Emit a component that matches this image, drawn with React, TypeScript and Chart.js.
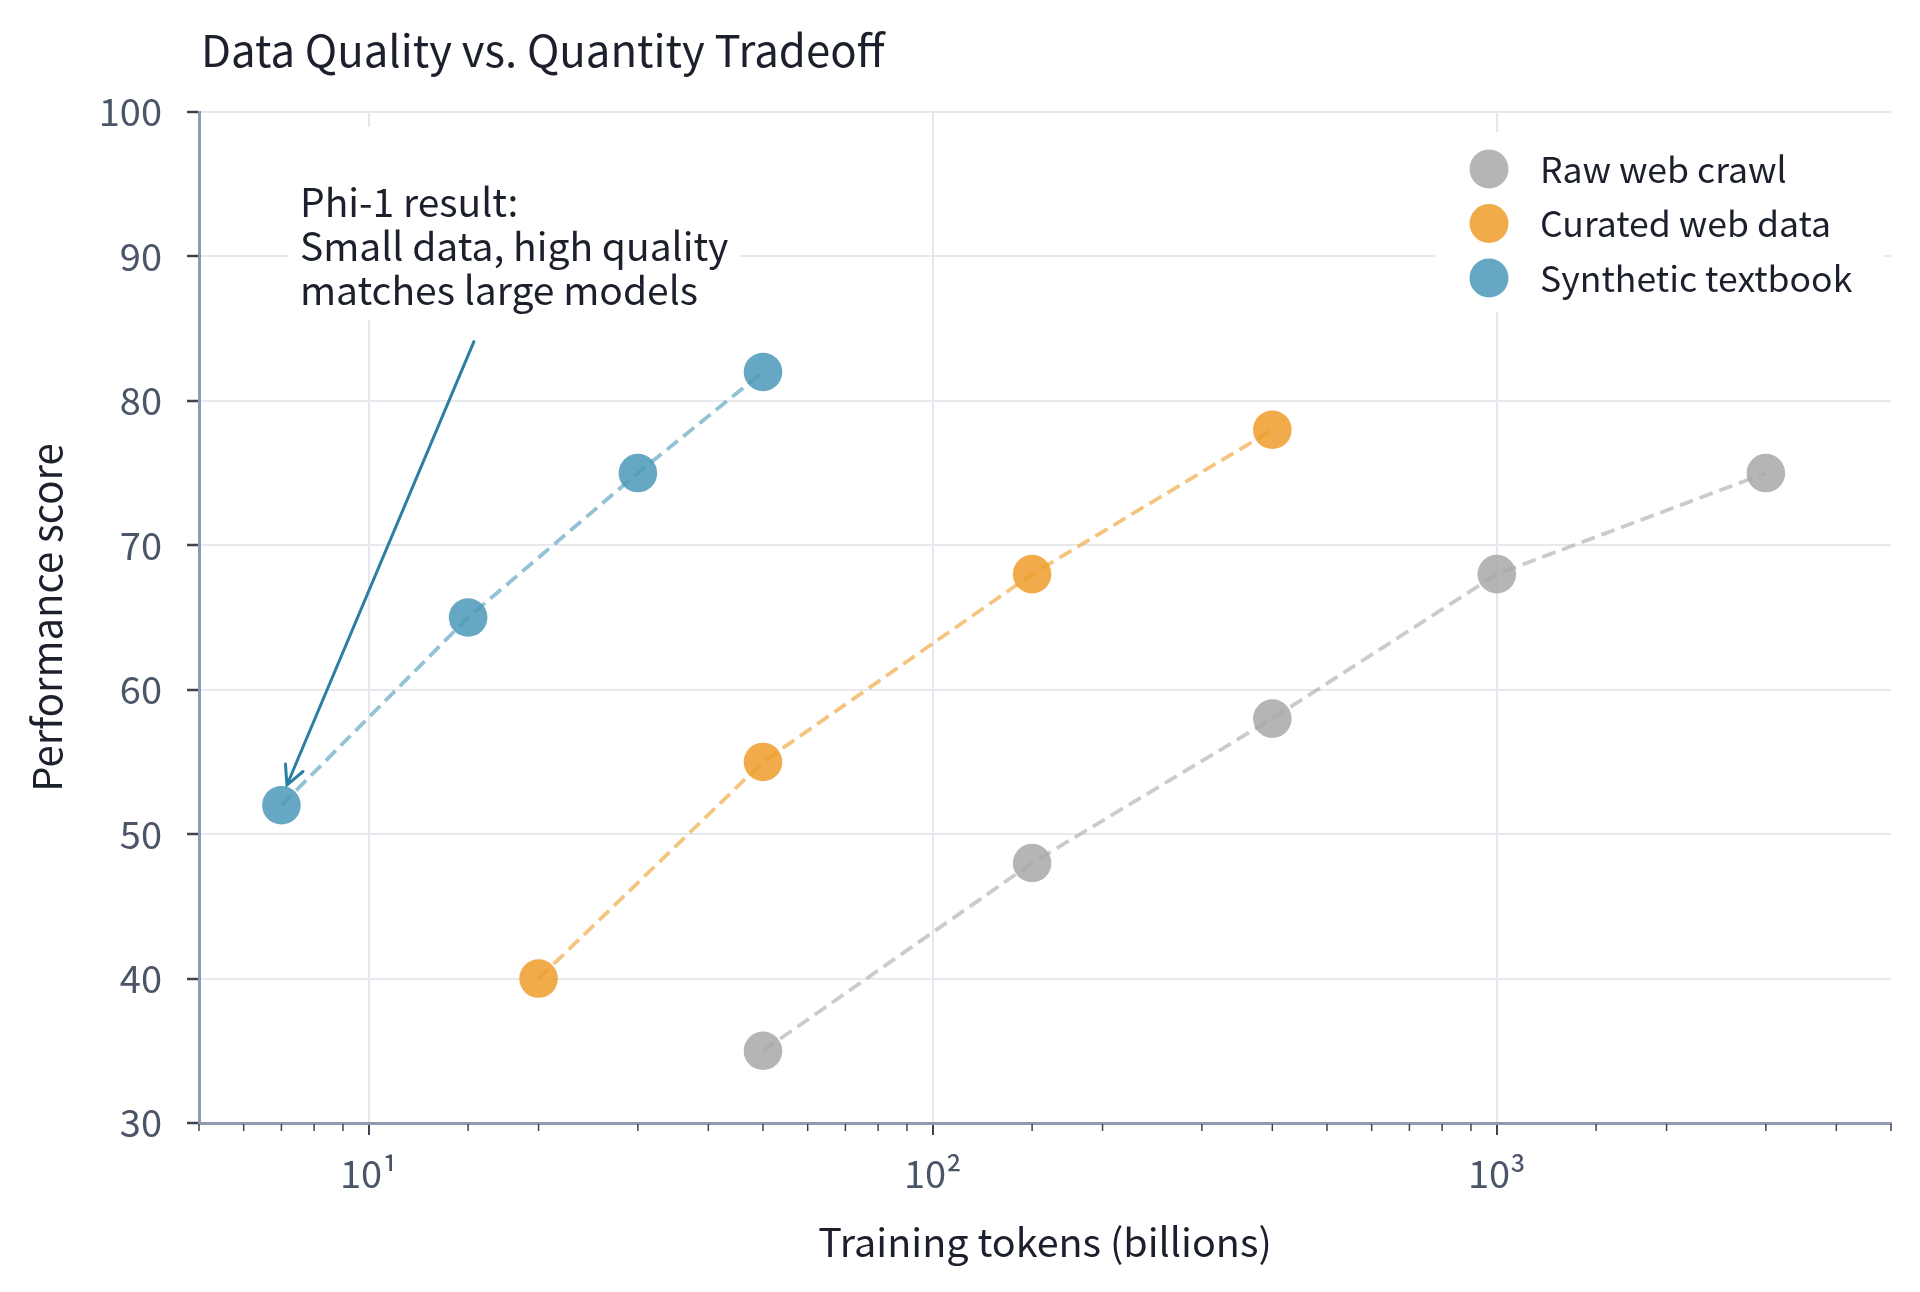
import { useEffect, useRef } from 'react';
import { Chart, registerables } from 'chart.js';

Chart.register(...registerables);

// series values (tokens in billions, score)
const rawTokens = [50, 150, 400, 1000, 3000];
const rawScores = [35, 48, 58, 68, 75];
const curatedTokens = [20, 50, 150, 400];
const curatedScores = [40, 55, 68, 78];
const syntheticTokens = [7, 15, 30, 50];
const syntheticScores = [52, 65, 75, 82];

const seriesLabels = ['Raw web crawl', 'Curated web data', 'Synthetic textbook'];
const markerColors = ['rgba(168,168,168,0.85)', 'rgba(238,156,42,0.85)', 'rgba(75,153,185,0.85)'];
const lineColors = ['rgba(168,168,168,0.6)', 'rgba(238,156,42,0.6)', 'rgba(75,153,185,0.6)'];

const xMajorTicks = [10, 100, 1000];
const xTickLabels = ['10¹', '10²', '10³'];

const annotationLines = ['Phi-1 result:', 'Small data, high quality', 'matches large models'];
const annotationText = { x: 7.55, y: 92.87 };
const arrowFrom = { x: 15.36, y: 84.1 };
const arrowTo = { x: 7.16, y: 53.4 };

const FONT = "'Noto Sans CJK KR', 'Noto Sans', sans-serif";
const DARK = '#1b202c';

const isMajor = (v: number) => Math.abs(Math.log10(v) - Math.round(Math.log10(v))) < 1e-9;

const extrasPlugin = {
    id: 'extras',
    afterDatasetsDraw(chart: any) {
        const { ctx, chartArea } = chart;
        const xs = chart.scales.x;
        const ys = chart.scales.y;

        // minor ticks on the log axis
        ctx.save();
        ctx.strokeStyle = '#3d4451';
        ctx.lineWidth = 1.5;
        xs.ticks.forEach((t: any) => {
            if (isMajor(t.value)) return;
            const px = xs.getPixelForValue(t.value);
            ctx.beginPath();
            ctx.moveTo(px, chartArea.bottom + 1);
            ctx.lineTo(px, chartArea.bottom + 8);
            ctx.stroke();
        });
        ctx.restore();

        // annotation box + text
        ctx.save();
        ctx.font = `39px ${FONT}`;
        const tx = xs.getPixelForValue(annotationText.x);
        const ty = ys.getPixelForValue(annotationText.y);
        const lh = 44;
        const w = Math.max(...annotationLines.map((l) => ctx.measureText(l).width));
        ctx.fillStyle = '#ffffff';
        ctx.fillRect(tx - 12, ty - 88, w + 24, 88 + lh * 2 + 17);
        ctx.fillStyle = DARK;
        ctx.textBaseline = 'alphabetic';
        annotationLines.forEach((l, i) => ctx.fillText(l, tx, ty + 2 + i * lh));

        // arrow
        const x1 = xs.getPixelForValue(arrowFrom.x);
        const y1 = ys.getPixelForValue(arrowFrom.y);
        const x2 = xs.getPixelForValue(arrowTo.x);
        const y2 = ys.getPixelForValue(arrowTo.y);
        ctx.strokeStyle = '#2a7fa3';
        ctx.lineWidth = 3;
        ctx.lineCap = 'round';
        ctx.beginPath();
        ctx.moveTo(x1, y1);
        ctx.lineTo(x2, y2);
        const ang = Math.atan2(y1 - y2, x1 - x2);
        const head = 21;
        const spread = (27 * Math.PI) / 180;
        ctx.moveTo(x2 + head * Math.cos(ang - spread), y2 + head * Math.sin(ang - spread));
        ctx.lineTo(x2, y2);
        ctx.lineTo(x2 + head * Math.cos(ang + spread), y2 + head * Math.sin(ang + spread));
        ctx.stroke();
        ctx.restore();

        // legend
        ctx.save();
        const right = chartArea.right - 6;
        const top = chartArea.top + 20;
        ctx.fillStyle = '#ffffff';
        ctx.fillRect(right - 450, top, 449, 180);
        ctx.font = `35.6px ${FONT}`;
        ctx.textBaseline = 'middle';
        chart.data.datasets.forEach((ds: any, i: number) => {
            const cy = top + 37 + i * 54.5;
            ctx.fillStyle = ds.pointBackgroundColor;
            ctx.beginPath();
            ctx.arc(right - 396, cy, 19.5, 0, Math.PI * 2);
            ctx.fill();
            ctx.fillStyle = DARK;
            ctx.fillText(ds.label, right - 345, cy);
        });
        ctx.restore();

        // title
        ctx.save();
        ctx.font = `43.7px ${FONT}`;
        ctx.fillStyle = DARK;
        ctx.textBaseline = 'alphabetic';
        ctx.fillText('Data Quality vs. Quantity Tradeoff', chartArea.left + 2, 67);
        ctx.restore();
    },
};

export default function App() {
    const canvasRef = useRef<HTMLCanvasElement | null>(null);

    useEffect(() => {
        document.body.style.margin = '0';
        if (!canvasRef.current) return;

        const makeSet = (i: number, xs: number[], ys: number[]) => ({
            label: seriesLabels[i],
            data: xs.map((x, k) => ({ x, y: ys[k] })),
            borderColor: lineColors[i],
            backgroundColor: markerColors[i],
            pointBackgroundColor: markerColors[i],
            pointBorderWidth: 0,
            pointRadius: 19.3,
            borderWidth: 3.8,
            borderDash: [14, 7],
            tension: 0,
            fill: false,
        });

        const chart = new Chart(canvasRef.current, {
            type: 'line',
            data: {
                datasets: [
                    makeSet(0, rawTokens, rawScores),
                    makeSet(1, curatedTokens, curatedScores),
                    makeSet(2, syntheticTokens, syntheticScores),
                ],
            },
            options: {
                animation: false,
                responsive: false,
                devicePixelRatio: 1,
                layout: { padding: { top: 112, right: 29, left: 0, bottom: 0 } },
                plugins: {
                    legend: { display: false },
                    title: { display: false },
                    tooltip: { enabled: false },
                },
                scales: {
                    x: {
                        type: 'logarithmic',
                        min: 5,
                        max: 5000,
                        afterFit: (s: any) => { s.height = 169; },
                        border: { display: true, color: '#8d9ab0', width: 3 },
                        grid: {
                            color: (c: any) => (c.tick && isMajor(c.tick.value) ? '#e4e8ee' : 'rgba(0,0,0,0)'),
                            tickColor: (c: any) => (c.tick && isMajor(c.tick.value) ? '#3d4451' : 'rgba(0,0,0,0)'),
                            lineWidth: 2,
                            tickLength: 12,
                            tickWidth: 2,
                        },
                        ticks: {
                            autoSkip: false,
                            maxRotation: 0,
                            padding: 16,
                            color: '#4a5568',
                            font: { size: 38, family: FONT },
                            callback: (v: any) => {
                                const idx = xMajorTicks.findIndex((m) => Math.abs(m - Number(v)) < 1e-6);
                                return idx >= 0 ? xTickLabels[idx] : '';
                            },
                        },
                        title: {
                            display: true,
                            text: 'Training tokens (billions)',
                            color: DARK,
                            font: { size: 39.5, family: FONT },
                            padding: { top: 0, bottom: 26 },
                        },
                    },
                    y: {
                        type: 'linear',
                        min: 30,
                        max: 100,
                        afterFit: (s: any) => { s.width = 199; },
                        border: { display: true, color: '#8d9ab0', width: 3 },
                        grid: {
                            color: '#e6e9ee',
                            lineWidth: 2,
                            tickColor: '#3d4451',
                            tickLength: 12,
                            tickWidth: 2.5,
                        },
                        ticks: {
                            stepSize: 10,
                            padding: 25,
                            color: '#4a5568',
                            font: { size: 38, family: FONT },
                        },
                        title: {
                            display: true,
                            text: 'Performance score',
                            color: DARK,
                            font: { size: 40, family: FONT },
                            padding: { top: 23, bottom: 0 },
                        },
                    },
                },
            },
            plugins: [extrasPlugin],
        } as any);

        return () => chart.destroy();
    }, []);

    return (
        <div style={{ width: 1920, height: 1292, background: '#fff' }}>
            <canvas ref={canvasRef} width={1920} height={1292} style={{ width: 1920, height: 1292, display: 'block' }} />
        </div>
    );
}
